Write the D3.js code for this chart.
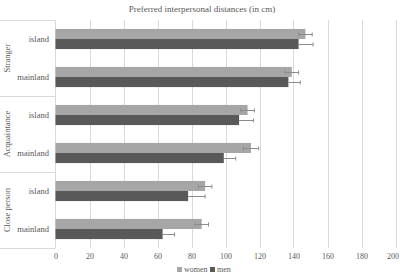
<!DOCTYPE html>
<html><head><meta charset="utf-8">
<script src="https://cdn.jsdelivr.net/npm/d3@7"></script>
<style>body{margin:0;background:#fff}svg{display:block}</style>
</head><body>
<svg id="c" width="400" height="277"></svg>
<script>
const groups = ["Stranger", "Acquaintance", "Close person"];
const places = ["island", "mainland"];
const women = [147, 139, 113, 115, 88, 86];
const men = [143, 137, 108, 99, 78, 63];
const womenErr = [4, 4, 4, 4.5, 4, 4];
const menErr = [8.5, 7, 8.5, 7, 10, 7];
const xTicks = [0, 20, 40, 60, 80, 100, 120, 140, 160, 180, 200];
const seriesNames = ["women", "men"];
const colors = ["#a6a6a6", "#595959"];

const svg = d3.select("#c");
const font = "'Liberation Serif', 'Times New Roman', serif";
const txt = "#595959";
const L = 55.5, R = 395.5, T = 20, B = 248;
const rows = groups.flatMap(g => places.map(p => g + "|" + p));
const x = d3.scaleLinear().domain([0, 200]).range([L, R]);
const y = d3.scaleBand().domain(rows).range([T, B]).paddingInner(0.47).paddingOuter(0.235);
const sub = d3.scaleBand().domain(seriesNames).range([0, y.bandwidth()]);

svg.append("text").attr("x", 202).attr("y", 12).attr("text-anchor", "middle")
  .attr("font-family", font).attr("font-size", 9).attr("fill", txt)
  .text("Preferred interpersonal distances (in cm)");

// gridlines
svg.append("g").selectAll("line").data(xTicks.slice(1)).join("line")
  .attr("x1", d => Math.round(x(d)) + 0.5).attr("x2", d => Math.round(x(d)) + 0.5)
  .attr("y1", T).attr("y2", B).attr("stroke", "#d9d9d9").attr("stroke-width", 1);

// x axis labels
const xa = svg.append("g").attr("transform", `translate(0,${B})`)
  .call(d3.axisBottom(x).tickValues(xTicks).tickSize(0).tickPadding(5));
xa.select(".domain").remove();
xa.selectAll("text").attr("font-family", font).attr("font-size", 8).attr("fill", txt)
  .attr("dx", d => d === 200 ? -3 : 0);

// left axis structure
const ax = svg.append("g").attr("stroke", "#d9d9d9").attr("stroke-width", 1);
ax.append("line").attr("x1", 55.5).attr("x2", 55.5).attr("y1", T).attr("y2", B);
const sepY = d3.range(groups.length + 1).map(i => T + i * (B - T) / groups.length);
ax.selectAll("line.sep").data(sepY).join("line").attr("class", "sep")
  .attr("x1", 0).attr("x2", 55.5).attr("y1", d => Math.round(d) + 0.5).attr("y2", d => Math.round(d) + 0.5);

// group labels
svg.append("g").selectAll("text").data(groups).join("text")
  .attr("transform", (d, i) => `translate(10,${(sepY[i] + sepY[i + 1]) / 2}) rotate(-90)`)
  .attr("text-anchor", "middle").attr("font-family", font).attr("font-size", 8.5).attr("fill", txt)
  .text(d => d);

// category labels
svg.append("g").selectAll("text").data(rows).join("text")
  .attr("x", 49).attr("y", d => y(d) + y.bandwidth() / 2 + 3)
  .attr("text-anchor", "end").attr("font-family", font).attr("font-size", 8.5).attr("fill", txt)
  .text(d => d.split("|")[1]);

const series = [women, men];
const errs = [womenErr, menErr];
series.forEach((vals, s) => {
  const g = svg.append("g");
  g.selectAll("rect").data(vals).join("rect")
    .attr("x", x(0)).attr("y", (d, i) => y(rows[i]) + sub(seriesNames[s]))
    .attr("width", d => x(d) - x(0)).attr("height", sub.bandwidth())
    .attr("fill", colors[s]);
});
series.forEach((vals, s) => {
  const g = svg.append("g").attr("stroke", "#8c8c8c").attr("stroke-width", 1);
  vals.forEach((v, i) => {
    const cy = Math.round(y(rows[i]) + sub(seriesNames[s]) + sub.bandwidth() / 2) + 0.5;
    const x1 = s === 0 ? x(v - errs[s][i]) : x(v), x2 = x(v + errs[s][i]);
    g.append("line").attr("x1", x1).attr("x2", x2).attr("y1", cy).attr("y2", cy);
    if (s === 0) g.append("line").attr("x1", x1).attr("x2", x1).attr("y1", cy - 2).attr("y2", cy + 2);
    g.append("line").attr("x1", x2).attr("x2", x2).attr("y1", cy - 2).attr("y2", cy + 2);
  });
});

// legend
const lg = svg.append("g").attr("transform", "translate(177,272)");
const lx = [0, 33];
seriesNames.forEach((n, i) => {
  lg.append("rect").attr("x", lx[i]).attr("y", -5).attr("width", 5).attr("height", 5).attr("fill", colors[i]);
  lg.append("text").attr("x", lx[i] + 7).attr("y", 0).attr("font-family", font).attr("font-size", 8)
    .attr("fill", txt).text(n);
});
</script>
</body></html>
